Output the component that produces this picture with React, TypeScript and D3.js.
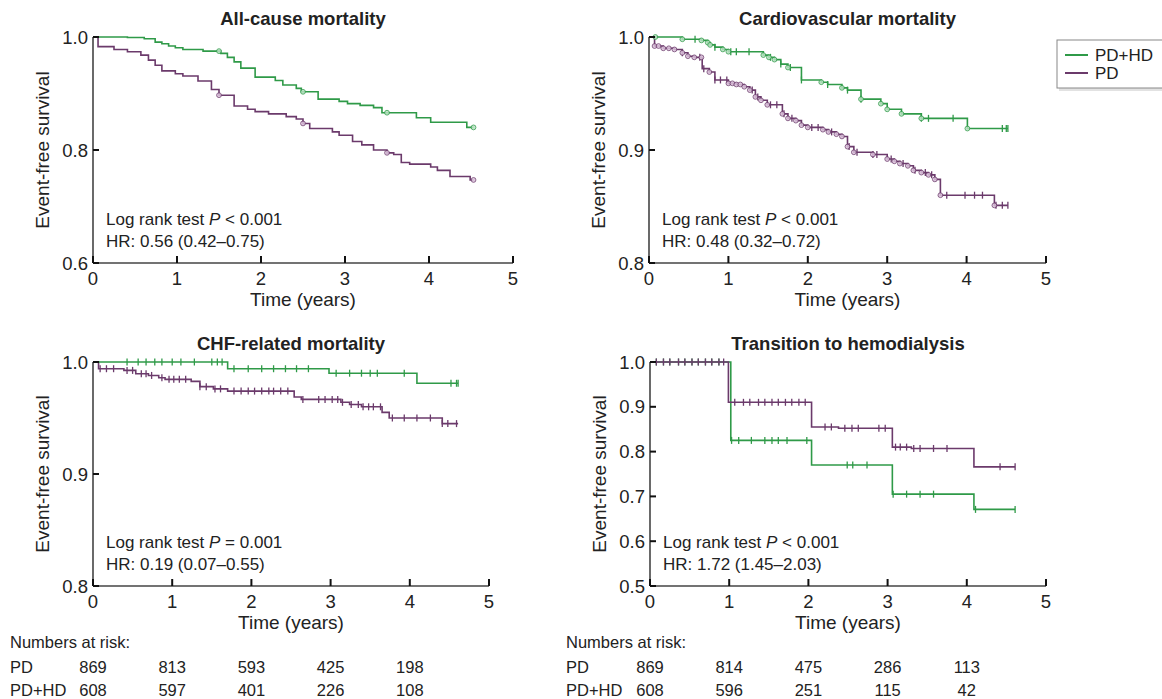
import * as d3 from 'd3';
import React from 'react';

const GREEN = '#2f9a48';
const PURPLE = '#6b3a6b';
const GREEN_FILL = '#b9e2c3';
const PURPLE_FILL = '#dcc3dc';
const FONT = '"Liberation Sans", Arial, Helvetica, sans-serif';

const xTicks = [0, 1, 2, 3, 4, 5];

// All-cause mortality
const allHdT = [0, 0.41, 0.61, 0.74, 0.82, 0.9, 0.98, 1.07, 1.31, 1.52, 1.6, 1.68, 1.76, 1.93, 2.17, 2.26, 2.42, 2.48, 2.68, 2.93, 3.03, 3.18, 3.34, 3.44, 3.85, 4.02, 4.45];
const allHdS = [1, 0.999, 0.997, 0.991, 0.988, 0.984, 0.981, 0.978, 0.975, 0.971, 0.964, 0.956, 0.945, 0.929, 0.923, 0.915, 0.909, 0.903, 0.89, 0.886, 0.882, 0.879, 0.875, 0.866, 0.857, 0.849, 0.84];
const allPdT = [0, 0.06, 0.25, 0.41, 0.57, 0.66, 0.74, 0.82, 0.98, 1.07, 1.25, 1.41, 1.5, 1.68, 1.84, 1.93, 2.09, 2.3, 2.42, 2.5, 2.58, 2.85, 2.93, 3.09, 3.2, 3.34, 3.5, 3.58, 3.67, 3.77, 4.02, 4.1, 4.25, 4.49];
const allPdS = [1, 0.983, 0.978, 0.974, 0.968, 0.959, 0.95, 0.94, 0.935, 0.931, 0.922, 0.907, 0.897, 0.878, 0.872, 0.868, 0.864, 0.859, 0.855, 0.847, 0.838, 0.832, 0.826, 0.815, 0.809, 0.8, 0.795, 0.792, 0.778, 0.775, 0.77, 0.764, 0.753, 0.747];
const allCircles = [1.5, 2.5, 3.5, 4.53];

// Cardiovascular mortality
const cvHdT = [0, 0.42, 0.66, 0.74, 0.77, 0.83, 0.93, 1.0, 1.44, 1.51, 1.58, 1.66, 1.75, 1.92, 2.17, 2.25, 2.43, 2.5, 2.67, 2.92, 3.0, 3.18, 3.43, 4.01];
const cvHdS = [1, 0.998, 0.997, 0.995, 0.993, 0.991, 0.989, 0.987, 0.984, 0.982, 0.98, 0.976, 0.973, 0.962, 0.96, 0.958, 0.955, 0.953, 0.945, 0.941, 0.936, 0.932, 0.928, 0.919];
const cvHdCircles = [0.08, 0.42, 0.66, 0.74, 0.77, 0.93, 1.0, 1.44, 1.51, 1.58, 1.75, 2.17, 2.43, 2.67, 2.92, 3.0, 3.18, 3.43, 4.01];
const cvHdPlus = [0.58, 0.83, 1.03, 1.1, 1.26, 1.53, 1.66, 1.78, 1.92, 2.25, 2.5, 2.67, 3.43, 3.52, 3.83, 4.45, 4.5, 4.52];
const cvPdT = [0, 0.07, 0.18, 0.32, 0.42, 0.49, 0.57, 0.67, 0.76, 0.83, 1.0, 1.1, 1.2, 1.27, 1.34, 1.41, 1.49, 1.68, 1.75, 1.85, 1.92, 2.0, 2.19, 2.26, 2.36, 2.43, 2.5, 2.58, 2.82, 3.0, 3.09, 3.16, 3.26, 3.33, 3.43, 3.52, 3.6, 3.67, 4.35];
const cvPdS = [1, 0.992, 0.99, 0.989, 0.986, 0.983, 0.982, 0.972, 0.969, 0.962, 0.959, 0.958, 0.956, 0.953, 0.947, 0.944, 0.94, 0.932, 0.928, 0.926, 0.922, 0.92, 0.918, 0.916, 0.914, 0.912, 0.903, 0.898, 0.896, 0.892, 0.89, 0.888, 0.886, 0.882, 0.88, 0.878, 0.874, 0.86, 0.851];
const cvPdCircles = [0.07, 0.12, 0.18, 0.25, 0.32, 0.42, 0.49, 0.57, 0.66, 0.76, 1.0, 1.05, 1.1, 1.15, 1.2, 1.27, 1.34, 1.41, 1.49, 1.68, 1.75, 1.85, 1.92, 2.0, 2.19, 2.26, 2.36, 2.43, 2.5, 2.58, 2.82, 3.0, 3.09, 3.16, 3.26, 3.33, 3.43, 3.52, 3.6, 3.67, 4.35];
const cvPdPlus = [0.42, 0.64, 0.69, 0.83, 0.9, 0.98, 1.3, 1.37, 1.53, 1.61, 1.7, 1.8, 2.05, 2.13, 2.3, 2.52, 2.62, 2.82, 2.87, 3.05, 3.2, 3.35, 3.48, 3.56, 3.75, 3.98, 4.1, 4.2, 4.37, 4.45, 4.52];

// CHF-related mortality
const chfHdT = [0, 1.7, 2.98, 4.09];
const chfHdS = [1, 0.994, 0.99, 0.981];
const chfHdPlus = [0.43, 0.57, 0.67, 0.78, 0.87, 1.0, 1.11, 1.28, 1.5, 1.57, 1.63, 1.78, 1.96, 2.13, 2.28, 2.43, 2.57, 2.72, 3.07, 3.24, 3.39, 3.5, 3.59, 3.93, 4.52, 4.59, 4.61];
const chfPdT = [0, 0.07, 0.39, 0.54, 0.7, 0.83, 0.91, 1.24, 1.35, 1.52, 1.7, 2.54, 2.63, 3.13, 3.24, 3.39, 3.65, 3.74, 4.41];
const chfPdS = [1, 0.994, 0.9925, 0.9895, 0.988, 0.986, 0.9845, 0.9827, 0.978, 0.976, 0.974, 0.9687, 0.9666, 0.964, 0.962, 0.96, 0.955, 0.95, 0.945];
const chfPdPlus = [0.09, 0.17, 0.26, 0.43, 0.5, 0.61, 0.67, 0.74, 0.87, 0.96, 1.02, 1.09, 1.17, 1.35, 1.43, 1.54, 1.61, 1.78, 1.87, 1.96, 2.04, 2.13, 2.22, 2.28, 2.37, 2.46, 2.65, 2.85, 2.93, 3.02, 3.09, 3.15, 3.26, 3.35, 3.41, 3.48, 3.54, 3.63, 3.78, 3.93, 4.09, 4.26, 4.41, 4.48, 4.59];

// Transition to hemodialysis
const hdHdT = [0, 1.02, 2.04, 3.06, 4.09];
const hdHdS = [1, 0.825, 0.77, 0.705, 0.671];
const hdHdPlus = [0.08, 0.17, 0.25, 0.36, 0.44, 0.53, 0.61, 0.7, 0.78, 0.87, 1.03, 1.12, 1.28, 1.45, 1.54, 1.62, 1.73, 1.98, 2.49, 2.56, 2.74, 3.07, 3.24, 3.41, 3.58, 4.11, 4.61];
const hdPdT = [0, 0.99, 2.04, 2.38, 3.06, 3.3, 4.09];
const hdPdS = [1, 0.91, 0.855, 0.852, 0.81, 0.807, 0.766];
const hdPdPlus = [0.08, 0.17, 0.25, 0.36, 0.44, 0.53, 0.61, 0.7, 0.78, 0.87, 0.93, 1.07, 1.18, 1.26, 1.37, 1.45, 1.54, 1.62, 1.71, 1.79, 1.88, 1.96, 2.21, 2.29, 2.46, 2.55, 2.63, 2.89, 2.97, 3.1, 3.16, 3.24, 3.33, 3.41, 3.58, 3.75, 4.42, 4.61];

// numbers at risk
const riskLeftPd = [869, 813, 593, 425, 198];
const riskLeftHd = [608, 597, 401, 226, 108];
const riskRightPd = [869, 814, 475, 286, 113];
const riskRightHd = [608, 596, 251, 115, 42];

type Curve = { t: number[]; s: number[]; end: number; color: string; fill: string; circles?: number[]; plus?: number[] };
type Panel = {
  title: string; left: number; right: number; top: number; bottom: number;
  yDomain: [number, number]; yTicks: number[]; op: string; p: string; hr: string; curves: Curve[];
};

const panels: Panel[] = [
  {
    title: 'All-cause mortality', left: 93, right: 513, top: 37, bottom: 263,
    yDomain: [0.6, 1.0], yTicks: [0.6, 0.8, 1.0], op: '<', p: '0.001', hr: 'HR: 0.56 (0.42\u20130.75)',
    curves: [
      { t: allPdT, s: allPdS, end: 4.53, color: PURPLE, fill: PURPLE_FILL, circles: allCircles },
      { t: allHdT, s: allHdS, end: 4.53, color: GREEN, fill: GREEN_FILL, circles: allCircles },
    ],
  },
  {
    title: 'Cardiovascular mortality', left: 649, right: 1046, top: 37, bottom: 263,
    yDomain: [0.8, 1.0], yTicks: [0.8, 0.9, 1.0], op: '<', p: '0.001', hr: 'HR: 0.48 (0.32\u20130.72)',
    curves: [
      { t: cvPdT, s: cvPdS, end: 4.52, color: PURPLE, fill: PURPLE_FILL, circles: cvPdCircles, plus: cvPdPlus },
      { t: cvHdT, s: cvHdS, end: 4.52, color: GREEN, fill: GREEN_FILL, circles: cvHdCircles, plus: cvHdPlus },
    ],
  },
  {
    title: 'CHF-related mortality', left: 93, right: 489, top: 362, bottom: 586,
    yDomain: [0.8, 1.0], yTicks: [0.8, 0.9, 1.0], op: '=', p: '0.001', hr: 'HR: 0.19 (0.07\u20130.55)',
    curves: [
      { t: chfPdT, s: chfPdS, end: 4.61, color: PURPLE, fill: PURPLE_FILL, plus: chfPdPlus },
      { t: chfHdT, s: chfHdS, end: 4.61, color: GREEN, fill: GREEN_FILL, plus: chfHdPlus },
    ],
  },
  {
    title: 'Transition to hemodialysis', left: 650, right: 1046, top: 362, bottom: 586,
    yDomain: [0.5, 1.0], yTicks: [0.5, 0.6, 0.7, 0.8, 0.9, 1.0], op: '<', p: '0.001', hr: 'HR: 1.72 (1.45\u20132.03)',
    curves: [
      { t: hdHdT, s: hdHdS, end: 4.61, color: GREEN, fill: GREEN_FILL, plus: hdHdPlus },
      { t: hdPdT, s: hdPdS, end: 4.61, color: PURPLE, fill: PURPLE_FILL, plus: hdPdPlus },
    ],
  },
];

function stepValue(c: Curve, time: number) {
  const i = d3.bisectRight(c.t, time) - 1;
  return c.s[Math.max(0, i)];
}

function KMPanel({ panel }: { panel: Panel }) {
  const x = d3.scaleLinear().domain([0, 5]).range([panel.left, panel.right]);
  const y = d3.scaleLinear().domain(panel.yDomain).range([panel.bottom, panel.top]);
  const line = d3.line<[number, number]>().x((d) => x(d[0])).y((d) => y(d[1])).curve(d3.curveStepAfter);
  const cx = (panel.left + panel.right) / 2;
  const cy = (panel.top + panel.bottom) / 2;
  return (
    <g>
      <text x={cx} y={panel.top - 12} textAnchor="middle" fontWeight="bold" fontSize={18.5} fill="#222">{panel.title}</text>
      {panel.curves.map((c, k) => {
        const pts: [number, number][] = c.t.map((t, i) => [t, c.s[i]] as [number, number]);
        pts.push([c.end, c.s[c.s.length - 1]]);
        return (
          <g key={k}>
            <path d={line(pts) || ''} fill="none" stroke={c.color} strokeWidth={1.6} />
            {(c.plus || []).map((t, i) => (
              <line key={'p' + i} x1={x(t)} x2={x(t)} y1={y(stepValue(c, t)) - 3.5} y2={y(stepValue(c, t)) + 3.5} stroke={c.color} strokeWidth={1.3} />
            ))}
            {(c.circles || []).map((t, i) => (
              <circle key={'c' + i} cx={x(t)} cy={y(stepValue(c, t))} r={2.4} fill={c.fill} stroke={c.color} strokeWidth={0.9} opacity={0.85} />
            ))}
          </g>
        );
      })}
      <line x1={panel.left} x2={panel.left} y1={panel.top} y2={panel.bottom} stroke="#444" strokeWidth={1.6} />
      <line x1={panel.left} x2={panel.right} y1={panel.bottom} y2={panel.bottom} stroke="#444" strokeWidth={1.6} />
      {panel.yTicks.map((v) => (
        <g key={v}>
          <line x1={panel.left} x2={panel.left + 6} y1={y(v)} y2={y(v)} stroke="#111" strokeWidth={2} />
          <text x={panel.left - 5} y={y(v) + 6.5} textAnchor="end" fontSize={18.5} fill="#222">{d3.format('.1f')(v)}</text>
        </g>
      ))}
      {xTicks.map((v) => (
        <g key={v}>
          <line x1={x(v)} x2={x(v)} y1={panel.bottom} y2={panel.bottom - 7} stroke="#111" strokeWidth={2} />
          <text x={x(v)} y={panel.bottom + 22} textAnchor="middle" fontSize={18.5} fill="#222">{v}</text>
        </g>
      ))}
      <text x={cx} y={panel.bottom + 43} textAnchor="middle" fontSize={19} fill="#222">Time (years)</text>
      <text transform={`translate(${panel.left - 44},${cy}) rotate(-90)`} textAnchor="middle" fontSize={19} fill="#222">Event-free survival</text>
      <text x={panel.left + 13} y={panel.bottom - 38} fontSize={17} fill="#222">
        Log rank test <tspan fontStyle="italic">P</tspan> {panel.op} {panel.p}
      </text>
      <text x={panel.left + 13} y={panel.bottom - 16} fontSize={17} fill="#222">{panel.hr}</text>
    </g>
  );
}

function RiskTable({ panel, labelX, pd, hd }: { panel: Panel; labelX: number; pd: number[]; hd: number[] }) {
  const x = d3.scaleLinear().domain([0, 5]).range([panel.left, panel.right]);
  return (
    <g fontSize={16.5} fill="#222">
      <text x={labelX} y={648}>Numbers at risk:</text>
      <text x={labelX} y={673}>PD</text>
      <text x={labelX} y={696}>PD+HD</text>
      {pd.map((n, i) => (
        <text key={'a' + i} x={x(i)} y={673} textAnchor="middle">{n}</text>
      ))}
      {hd.map((n, i) => (
        <text key={'b' + i} x={x(i)} y={696} textAnchor="middle">{n}</text>
      ))}
    </g>
  );
}

function Legend() {
  return (
    <g>
      <rect x={1059} y={42} width={110} height={49} fill="#cfcfcf" opacity={0.6} />
      <rect x={1057} y={40} width={110} height={48} fill="#fff" stroke="#888" strokeWidth={1} />
      <line x1={1065} x2={1088} y1={55} y2={55} stroke={GREEN} strokeWidth={2} />
      <line x1={1065} x2={1088} y1={73} y2={73} stroke={PURPLE} strokeWidth={2} />
      <text x={1095} y={61} fontSize={17} fill="#222">PD+HD</text>
      <text x={1095} y={79} fontSize={17} fill="#222">PD</text>
    </g>
  );
}

export default function App() {
  return (
    <div style={{ position: 'absolute', left: 0, top: 0 }}>
      <svg width={1162} height={699} style={{ display: 'block', background: '#fff' }} fontFamily={FONT}>
        {panels.map((p, i) => (
          <KMPanel key={i} panel={p} />
        ))}
        <RiskTable panel={panels[2]} labelX={10} pd={riskLeftPd} hd={riskLeftHd} />
        <RiskTable panel={panels[3]} labelX={566} pd={riskRightPd} hd={riskRightHd} />
        <Legend />
      </svg>
    </div>
  );
}
